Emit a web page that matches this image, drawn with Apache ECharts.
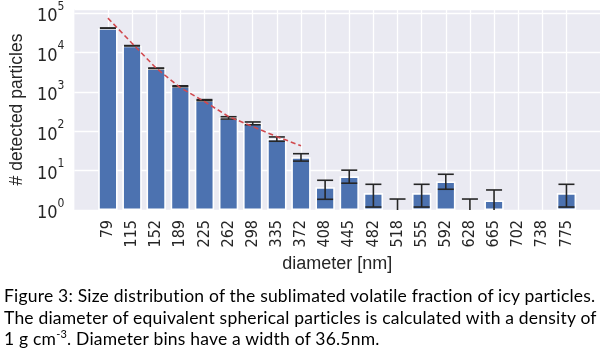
<!DOCTYPE html>
<html>
<head>
<meta charset="utf-8">
<script src="https://cdn.jsdelivr.net/npm/echarts@6/dist/echarts.min.js"></script>
<style>
    html, body {margin: 0; padding: 0; background: #fff;}
    #wrap {position: relative; width: 603px; height: 352px;}
    #chart {position: absolute; left: 0; top: 0; width: 603px; height: 352px;}
    #caption {
        position: absolute; left: 4px; top: 285px; width: 600px;
        font-family: Lato, "Noto Sans", sans-serif; font-size: 17.5px; line-height: 21.5px;
        letter-spacing: 0.2px; color: #000; white-space: nowrap;
    }
    #caption sup {font-size: 11px; line-height: 0; vertical-align: 7px;}
</style>
</head>
<body>
<div id="wrap">
    <div id="chart"></div>
    <div id="caption">
        Figure 3: Size distribution of the sublimated volatile fraction of icy particles.<br>
        The diameter of equivalent spherical particles is calculated with a density of<br>
        1 g cm<sup>-3</sup>. Diameter bins have a width of 36.5nm.
    </div>
</div>
<script>
// 直径分箱
var diameters = ['79', '115', '152', '189', '225', '262', '298', '335', '372', '408',
    '445', '482', '518', '555', '592', '628', '665', '702', '738', '775'];
// 计数 (null = 无柱)
var counts = [42000, 15000, 4000, 1400, 620, 220, 160, 64, 22, 3.8,
    7.2, 2.7, null, 2.7, 5.3, null, 1.75, null, null, 2.7];
// 误差下限 / 上限
var errLow = [41700, 14850, 3940, 1365, 600, 205, 147, 56, 17.5, 1.87,
    4.8, 1.19, 0.5, 1.19, 3.37, 0.5, 0.45, null, null, 1.19];
var errHigh = [42300, 15150, 4060, 1435, 640, 235, 173, 72, 27, 5.7,
    10.3, 4.5, 1.9, 4.5, 8.1, 1.9, 3.23, null, null, 4.5];
// 拟合虚线 (79 ~ 372)
var fitValues = [75500, 17300, 4030, 1290, 573, 237, 132, 73, 43];

var tickFont = '"Liberation Sans Narrow", "DejaVu Sans Condensed", "Liberation Sans", sans-serif';
var textColor = '#262626';

function chart() {
    var myChart = echarts.init(document.getElementById('chart'));    //初始化echarts图表

    var idx = diameters.map(function (d, i) { return i; });
    var barData = counts.map(function (v, i) { return [i, v == null ? '-' : v]; });
    var errData = [];
    for (var i = 0; i < diameters.length; i++) {
        if (errLow[i] != null) errData.push([i, errLow[i], errHigh[i]]);
    }
    var fitData = fitValues.map(function (v, i) { return [i, v]; });

    var option = {
        animation: false,
        grid: {
            left: 73.3,
            right: 3,
            top: 9,
            bottom: 142,
            show: true,
            backgroundColor: '#eaeaf2',
            borderWidth: 0
        },
        xAxis: {
            type: 'value',
            min: -1.39,
            max: 20.39,
            name: 'diameter [nm]',
            nameLocation: 'middle',
            nameGap: 37,
            nameTextStyle: {fontFamily: 'Liberation Sans', fontSize: 18, color: textColor},
            axisLine: {show: false},
            axisTick: {show: false, customValues: idx},
            splitLine: {show: true, lineStyle: {color: '#fff', width: 1.3}},
            axisLabel: {
                customValues: idx,
                rotate: 90,
                margin: 10,
                fontFamily: tickFont,
                fontSize: 16,
                color: textColor,
                formatter: function (v) {
                    return diameters[Math.round(v)];
                }
            }
        },
        yAxis: {
            type: 'log',
            logBase: 10,
            min: 1,
            max: 128800,
            name: '# detected particles',
            nameLocation: 'middle',
            nameGap: 39,
            nameTextStyle: {fontFamily: 'Liberation Sans', fontSize: 17.5, color: textColor},
            axisLine: {show: false},
            axisTick: {show: false},
            splitLine: {show: true, lineStyle: {color: '#fff', width: 1.3}},
            axisLabel: {
                margin: 10,
                formatter: function (v) {
                    var e = Math.log10(v);
                    if (Math.abs(e - Math.round(e)) > 0.01) return '';
                    return '{b|10}{s|' + Math.round(e) + '}';
                },
                rich: {
                    b: {fontFamily: tickFont, fontSize: 18, color: textColor, verticalAlign: 'bottom', lineHeight: 25},
                    s: {fontFamily: tickFont, fontSize: 12, color: textColor, verticalAlign: 'top', lineHeight: 25}
                }
            }
        },
        series: [
            {
                type: 'bar',
                data: barData,
                barWidth: 19.4,
                z: 2,
                itemStyle: {color: '#4c72b0', borderColor: '#fff', borderWidth: 1.6}
            },
            {
                type: 'custom',
                data: errData,
                clip: true,
                z: 3,
                encode: {x: 0, y: [1, 2]},
                renderItem: function (params, api) {
                    var x = api.value(0);
                    var pHi = api.coord([x, api.value(2)]);
                    var pLo = api.coord([x, api.value(1)]);
                    var w = 8;
                    var st = {stroke: '#262626', lineWidth: 1.6};
                    return {
                        type: 'group',
                        children: [
                            {type: 'line', shape: {x1: pHi[0], y1: pHi[1], x2: pLo[0], y2: pLo[1]}, style: st},
                            {type: 'line', shape: {x1: pHi[0] - w, y1: pHi[1], x2: pHi[0] + w, y2: pHi[1]}, style: st},
                            {type: 'line', shape: {x1: pLo[0] - w, y1: pLo[1], x2: pLo[0] + w, y2: pLo[1]}, style: st}
                        ]
                    };
                }
            },
            {
                type: 'line',
                data: fitData,
                z: 4,
                symbol: 'none',
                lineStyle: {color: '#d1494e', width: 1.6, type: [5, 3]}
            }
        ]
    };

    myChart.setOption(option);   //为echarts对象加载数据
}

chart();
</script>
</body>
</html>
